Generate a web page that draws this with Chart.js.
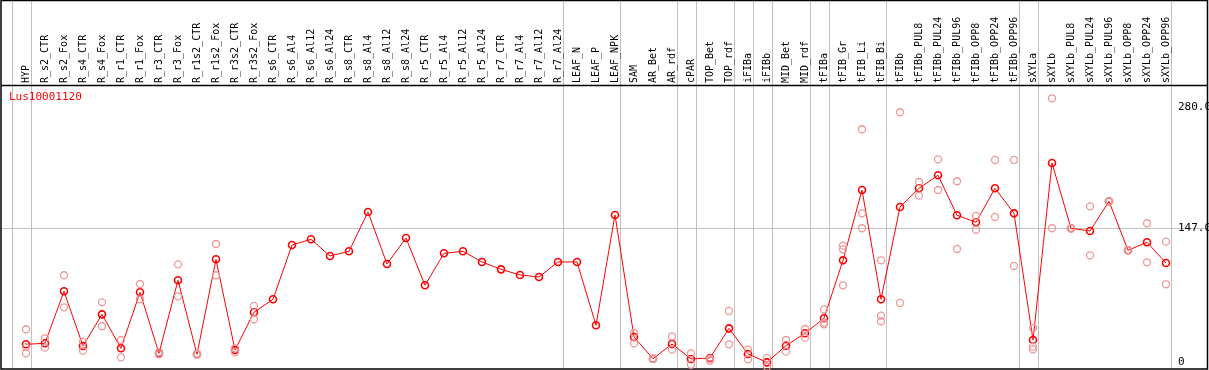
<!DOCTYPE html>
<html>
<head>
<meta charset="utf-8">
<script src="https://cdn.jsdelivr.net/npm/chart.js@4/dist/chart.umd.min.js"></script>
<style>
  html, body { margin: 0; padding: 0; background: #fff; }
  #c { display: block; }
</style>
</head>
<body>
<canvas id="c" width="1209" height="370"></canvas>
<script>
// sample names, left to right
const samples = [
  'HYP', 'R_s2_CTR', 'R_s2_Fox', 'R_s4_CTR', 'R_s4_Fox', 'R_r1_CTR', 'R_r1_Fox',
  'R_r3_CTR', 'R_r3_Fox', 'R_r1s2_CTR', 'R_r1s2_Fox', 'R_r3s2_CTR', 'R_r3s2_Fox',
  'R_s6_CTR', 'R_s6_Al4', 'R_s6_Al12', 'R_s6_Al24', 'R_s8_CTR', 'R_s8_Al4',
  'R_s8_Al12', 'R_s8_Al24', 'R_r5_CTR', 'R_r5_Al4', 'R_r5_Al12', 'R_r5_Al24',
  'R_r7_CTR', 'R_r7_Al4', 'R_r7_Al12', 'R_r7_Al24', 'LEAF_N', 'LEAF_P', 'LEAF_NPK',
  'SAM', 'AR_Bet', 'AR_rdf', 'cPAR', 'TOP_Bet', 'TOP_rdf', 'iFIBa', 'iFIBb',
  'MID_Bet', 'MID_rdf', 'tFIBa', 'tFIB_Gr', 'tFIB_Li', 'tFIB_Bi', 'tFIBb',
  'tFIBb_PUL8', 'tFIBb_PUL24', 'tFIBb_PUL96', 'tFIBb_OPP8', 'tFIBb_OPP24', 'tFIBb_OPP96',
  'sXYLa', 'sXYLb', 'sXYLb_PUL8', 'sXYLb_PUL24', 'sXYLb_PUL96', 'sXYLb_OPP8',
  'sXYLb_OPP24', 'sXYLb_OPP96'
];

// mean expression per sample
const means = [
  19.1, 20.2, 77.3, 17.2, 52.0, 14.7, 76.2, 9.2, 89.4, 8.1, 112.4, 12.8, 54.2,
  68.5, 128.1, 134.4, 116.1, 121.2, 164.4, 107.3, 135.8, 83.9, 119.0, 121.2, 109.5,
  101.4, 95.2, 93.0, 109.5, 109.5, 40.0, 161.1,
  27.1, 3.3, 19.4, 3.0, 4.1, 36.6, 8.5, -0.7, 17.6, 31.2, 47.7, 111.3, 188.5, 68.5,
  169.9, 190.4, 204.7, 160.8, 153.1, 190.4, 162.9,
  23.8, 218.2, 146.5, 143.5, 176.1, 122.3, 131.1, 108.4
];

// replicate values per sample (empty = single sample)
const replicates = [
  [35.6, 16.0, 9.2], [25.7, 15.4], [94.9, 59.7], [22.0, 12.1], [65.2, 38.9],
  [23.8, 4.8], [85.3, 68.5], [10.3, 8.1], [106.9, 71.8], [7.5, 8.7], [129.2, 94.9],
  [14.7, 10.3], [61.2, 46.6],
  [], [], [], [], [], [], [], [], [], [], [], [], [], [], [], [], [], [], [],
  [31.5, 20.2], [3.3, 3.0], [27.9, 13.2], [9.2, -3.3], [3.3, 1.1], [55.7, 19.1],
  [13.2, 2.6], [4.1, -5.5], [23.8, 11.0], [35.9, 26.4], [57.5, 42.8, 41.1],
  [127.4, 123.4, 83.9], [255.2, 162.9, 146.5], [111.3, 50.5, 44.4], [273.9, 64.5],
  [197.3, 182.3], [222.2, 188.5], [198.1, 123.8], [160.0, 144.9], [221.5, 158.9],
  [221.5, 105.1],
  [37.0, 16.5, 13.6], [289.2, 146.5], [146.5, 146.5], [170.6, 116.8], [176.1, 176.1],
  [122.3, 122.3], [152.0, 109.1], [131.8, 85.0]
];

// index of the last sample in each group (vertical separators)
const groupEnds = [-1, 0, 28, 31, 34, 35, 37, 38, 39, 41, 42, 45, 52, 53, 60];

// labelled levels on the right
const yTicks = [0, 147, 280];
const yTickLabels = ['0', '147.0', '280.0'];

const geneName = 'Lus10001120';

const meanPoints = means.map((v, i) => ({ x: i, y: v }));
const repPoints = [];
replicates.forEach((reps, i) => reps.forEach(v => repPoints.push({ x: i, y: v })));

const MONO = '"DejaVu Sans Mono", "Liberation Mono", monospace';

const framePlugin = {
  id: 'frame',
  beforeDatasetsDraw(chart) {
    const ctx = chart.ctx;
    const xs = chart.scales.x;
    const ys = chart.scales.y;
    const W = chart.width, H = chart.height;
    ctx.save();
    ctx.strokeStyle = 'rgb(192,192,192)';
    ctx.lineWidth = 1;
    // vertical separators
    groupEnds.forEach(g => {
      const px = Math.round(xs.getPixelForValue(g + 0.25)) + 0.5;
      ctx.beginPath();
      ctx.moveTo(px, 0);
      ctx.lineTo(px, H - 1);
      ctx.stroke();
    });
    // horizontal level line
    const py = Math.round(ys.getPixelForValue(147)) + 0.5;
    ctx.beginPath();
    ctx.moveTo(1, py);
    ctx.lineTo(W - 1, py);
    ctx.stroke();

    // sample labels, rotated
    ctx.fillStyle = '#000';
    ctx.font = '10px ' + MONO;
    ctx.textAlign = 'left';
    ctx.textBaseline = 'middle';
    samples.forEach((s, i) => {
      const px = xs.getPixelForValue(i);
      ctx.save();
      ctx.translate(px, 83);
      ctx.rotate(-Math.PI / 2);
      ctx.fillText(s, 0, 0);
      ctx.restore();
    });

    // level labels
    ctx.font = '11px ' + MONO;
    yTicks.forEach((t, i) => {
      ctx.fillText(yTickLabels[i], 1178, ys.getPixelForValue(t));
    });

    // gene name
    ctx.fillStyle = 'rgb(255,0,0)';
    ctx.font = '11px ' + MONO;
    ctx.fillText(geneName, 9, 97);

    // borders
    ctx.strokeStyle = '#000';
    ctx.lineWidth = 1.5;
    ctx.strokeRect(1, 0.5, W - 2.5, H - 1.5);
    ctx.beginPath();
    ctx.moveTo(1, 85.5);
    ctx.lineTo(W - 1, 85.5);
    ctx.stroke();
    ctx.restore();
  }
};

new Chart(document.getElementById('c').getContext('2d'), {
  type: 'scatter',
  data: {
    datasets: [
      {
        label: 'replicates',
        data: repPoints,
        showLine: false,
        pointStyle: 'circle',
        pointRadius: 3.5,
        pointBorderWidth: 1.3,
        pointBorderColor: 'rgb(240,150,150)',
        pointBackgroundColor: 'rgba(0,0,0,0)'
      },
      {
        label: geneName,
        data: meanPoints,
        showLine: true,
        borderColor: 'rgb(255,0,0)',
        borderWidth: 1,
        tension: 0,
        pointStyle: 'circle',
        pointRadius: 3.5,
        pointBorderWidth: 1.6,
        pointBorderColor: 'rgb(255,0,0)',
        pointBackgroundColor: 'rgba(0,0,0,0)'
      }
    ]
  },
  options: {
    responsive: false,
    animation: false,
    devicePixelRatio: 1,
    clip: false,
    layout: { autoPadding: false, padding: { top: 86, left: 2, right: 3, bottom: 2 } },
    plugins: {
      legend: { display: false },
      tooltip: { enabled: false }
    },
    scales: {
      x: { type: 'linear', display: false, min: -1.263, max: 62.105 },
      y: { type: 'linear', display: false, min: -6.92, max: 302.7 }
    }
  },
  plugins: [framePlugin]
});
</script>
</body>
</html>
